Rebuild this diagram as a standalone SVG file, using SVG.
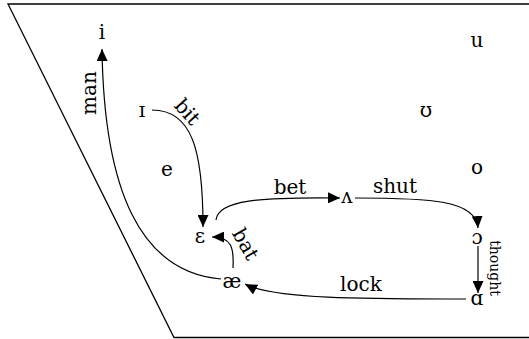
<svg xmlns="http://www.w3.org/2000/svg" width="529" height="339" viewBox="0 0 529 339">
<style>
.frame{fill:none;stroke:#000;stroke-width:1.3}
.edge{fill:none;stroke:#000;stroke-width:1.2;marker-end:url(#arr)}
.v{font-family:"DejaVu Serif",serif;font-size:20px;text-anchor:middle;fill:#000}
.l{font-family:"DejaVu Serif",serif;font-size:20px;text-anchor:middle;fill:#000}
.s{font-family:"DejaVu Serif",serif;font-size:14px;text-anchor:middle;fill:#000}
</style>
<defs>
<marker id="arr" markerUnits="userSpaceOnUse" markerWidth="12" markerHeight="11" refX="12" refY="5.5" orient="auto">
<path d="M0,0 L12,5.5 L0,11 z" fill="#000"/>
</marker>
</defs>
<rect width="529" height="339" fill="#fff"/>
<path class="frame" d="M 530 4 L 8 4 L 174 337.5 L 530 337.5"/>
<g id="edges">
<path class="edge" d="M 221 279 C 140 272, 104 190, 102 49"/>
<path class="edge" d="M 152 110 C 192 110, 203 150, 203 227"/>
<path class="edge" d="M 216 220 C 218 200, 260 197, 340 198"/>
<path class="edge" d="M 355 198 C 430 198, 476 200, 478 228"/>
<path class="edge" d="M 478 246 L 478 293"/>
<path class="edge" d="M 466 299 C 380 299, 275 300, 245 284"/>
<path class="edge" d="M 233 268 C 234 248, 232 237, 212 237"/>
<text class="l" transform="translate(91,93) rotate(-90)" y="5">man</text>
<text class="l" transform="translate(186,113) rotate(48)" y="5">bit</text>
<text class="l" x="290" y="194">bet</text>
<text class="l" x="395" y="193">shut</text>
<text class="s" transform="translate(490,268) rotate(90)">thought</text>
<text class="l" x="361" y="291">lock</text>
<text class="l" transform="translate(244,245) rotate(60)" y="5">bat</text>
</g>
<g id="n-i"><text class="v" x="102" y="39">i</text></g>
<g id="n-I"><text class="v" x="142" y="117">ɪ</text></g>
<g id="n-e"><text class="v" x="167" y="176">e</text></g>
<g id="n-E"><text class="v" x="200" y="243">ɛ</text></g>
<g id="n-ae"><text class="v" x="232" y="288">æ</text></g>
<g id="n-V"><text class="v" x="347" y="203">ʌ</text></g>
<g id="n-O"><text class="v" x="477" y="244">ɔ</text></g>
<g id="n-A"><text class="v" x="477" y="305">ɑ</text></g>
<g id="n-u"><text class="v" x="477" y="47">u</text></g>
<g id="n-U"><text class="v" x="426" y="117">ʊ</text></g>
<g id="n-o"><text class="v" x="477" y="174">o</text></g>
</svg>
